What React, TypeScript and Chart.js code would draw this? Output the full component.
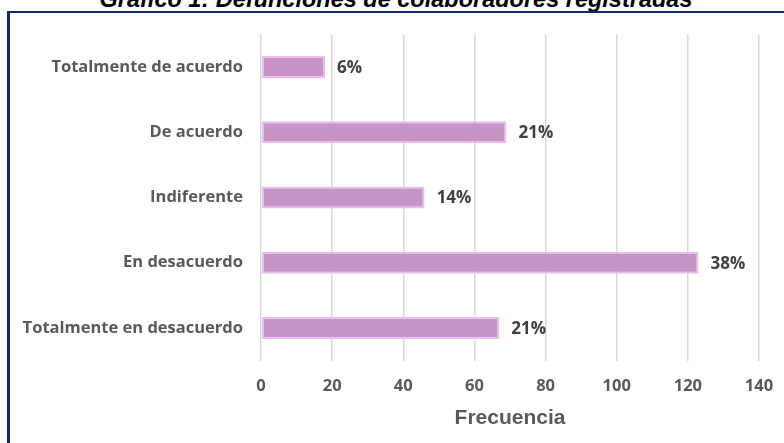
import React, { useEffect, useRef } from "react";
import { Chart, registerables } from "chart.js";

Chart.register(...registerables);

const titleText = "Gráfico 1: Defunciones de colaboradores registradas";
const categories = [
  "Totalmente de acuerdo",
  "De acuerdo",
  "Indiferente",
  "En desacuerdo",
  "Totalmente en desacuerdo",
];
const frequencies = [18, 69, 46, 123, 67];
const percentLabels = ["6%", "21%", "14%", "38%", "21%"];
const xAxisTitle = "Frecuencia";
const xMin = 0;
const xMax = 140;
const xStep = 20;

const pctPlugin = {
  id: "pctLabels",
  afterDatasetsDraw(chart: any) {
    const ctx = chart.ctx;
    const meta = chart.getDatasetMeta(0);
    ctx.save();
    ctx.font = "bold 17px 'Open Sans'";
    ctx.fillStyle = "#404040";
    ctx.textAlign = "left";
    ctx.textBaseline = "middle";
    meta.data.forEach((bar: any, i: number) => {
      ctx.fillText(percentLabels[i], bar.x + 12, bar.y + 1);
    });
    ctx.restore();
  },
};

export default function App() {
  const canvasRef = useRef<HTMLCanvasElement | null>(null);

  useEffect(() => {
    if (!canvasRef.current) return;
    const chart = new Chart(canvasRef.current, {
      type: "bar",
      data: {
        labels: categories,
        datasets: [
          {
            data: frequencies,
            backgroundColor: "#C695C6",
            borderColor: "#ECBBF0",
            borderWidth: 2,
            borderSkipped: false,
            barPercentage: 0.337,
            categoryPercentage: 1,
          },
        ],
      },
      options: {
        indexAxis: "y",
        responsive: false,
        animation: false,
        layout: { padding: { top: 34.4, right: 25, left: 0, bottom: 0 } },
        plugins: {
          legend: { display: false },
          tooltip: { enabled: false },
          title: { display: false },
        },
        scales: {
          x: {
            type: "linear",
            min: xMin,
            max: xMax,
            ticks: {
              stepSize: xStep,
              color: "#595959",
              font: { family: "'Open Sans'", size: 16.5, weight: "bold" },
              padding: 16,
            },
            grid: { color: "#D9D9D9", lineWidth: 1.5, drawTicks: false },
            border: { display: false },
            title: {
              display: true,
              text: xAxisTitle,
              color: "#595959",
              font: { family: "'Liberation Sans', Arial", size: 21, weight: "bold" },
              padding: { top: 0, bottom: 12.4 },
            },
            afterFit(scale: any) {
              scale.height = 82.4;
              scale.paddingLeft = 0;
              scale.paddingRight = 0;
            },
          },
          y: {
            type: "category",
            grid: { display: false, drawTicks: false },
            border: { display: false },
            ticks: {
              color: "#595959",
              font: { family: "'Open Sans'", size: 16.5, weight: "bold" },
              padding: 18,
            },
            afterFit(scale: any) {
              scale.width = 261;
              scale.paddingTop = 0;
              scale.paddingBottom = 0;
            },
          },
        },
      },
      plugins: [pctPlugin],
    } as any);
    return () => chart.destroy();
  }, []);

  return (
    <div
      style={{
        position: "fixed",
        left: 0,
        top: 0,
        width: 784,
        height: 443,
        overflow: "hidden",
        background: "#ffffff",
      }}
    >
      <div
        style={{
          position: "absolute",
          left: 4,
          top: -12,
          width: 784,
          textAlign: "center",
          fontFamily: "'Liberation Sans', Arial, sans-serif",
          fontWeight: "bold",
          fontStyle: "italic",
          fontSize: 23.5,
          lineHeight: "23.5px",
          color: "#000000",
          whiteSpace: "nowrap",
        }}
      >
        {titleText}
      </div>
      <div
        style={{
          position: "absolute",
          left: 7,
          top: 11,
          width: 900,
          height: 600,
          borderTop: "2px solid #0D2B6B",
          borderLeft: "3px solid #0D2B6B",
        }}
      />
      <canvas
        ref={canvasRef}
        width={784}
        height={443}
        style={{ position: "absolute", left: 0, top: 0, width: 784, height: 443 }}
      />
    </div>
  );
}
